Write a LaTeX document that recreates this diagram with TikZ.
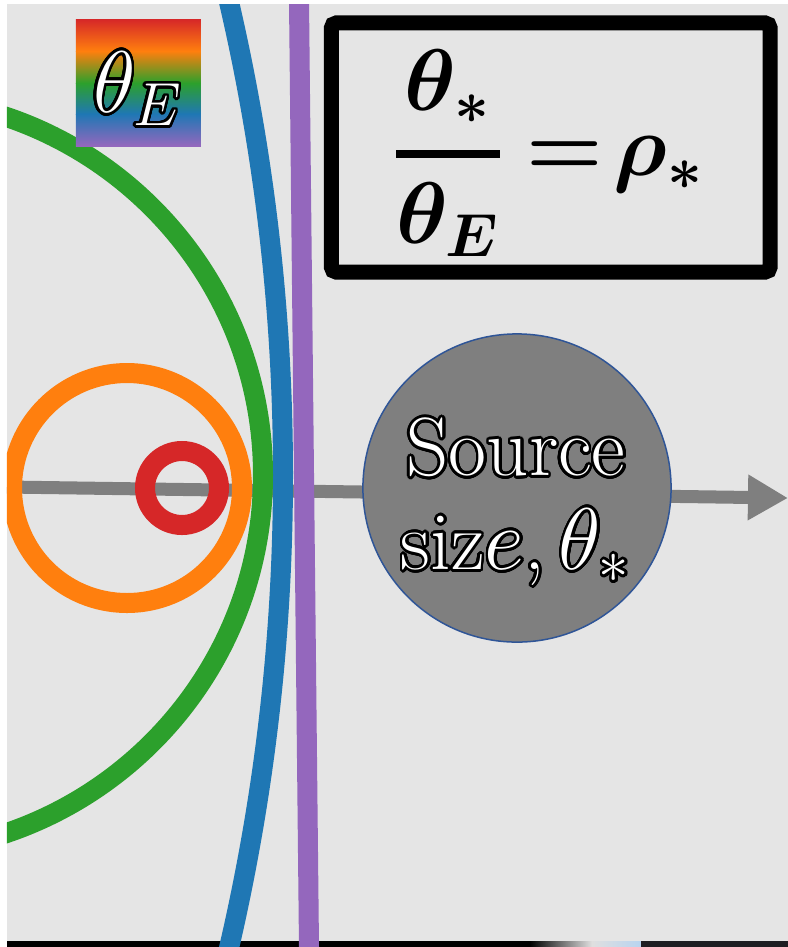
\documentclass[tikz,border=0pt]{standalone}
\usepackage{amsmath}
\usepackage{contour}
\usetikzlibrary{arrows.meta}

\definecolor{bgGray}{HTML}{E5E5E5}
\definecolor{tabRed}{HTML}{D62728}
\definecolor{tabOrange}{HTML}{FF7F0E}
\definecolor{tabGreen}{HTML}{2CA02C}
\definecolor{tabBlue}{HTML}{1F77B4}
\definecolor{tabPurple}{HTML}{9467BD}
\definecolor{axisGray}{HTML}{7F7F7F}
\definecolor{srcEdge}{HTML}{2F5597}
\definecolor{stripDark}{HTML}{1E1E22}
\definecolor{stripSky}{HTML}{B8D4F0}
\contourlength{0.75pt}
\contournumber{32}

\begin{document}
\begin{tikzpicture}[x=0.01cm, y=-0.01cm,
  ring/.style={line width=0.2cm},
  outlined/.style={text=white, inner sep=0pt}]
  \useasboundingbox (0,0) rectangle (788,947);

  % Background and bottom strip
  \fill[bgGray] (7,4) rectangle (788,941);
  \fill[black] (7,941) rectangle (788,947);
  \shade[left color=black, right color=gray!25] (530,941) rectangle (592,947);
  \shade[left color=gray!25, right color=stripSky] (592,941) rectangle (641,947);
  \fill[stripDark] (641,941) rectangle (788,947);

  \begin{scope}
    \clip (7,4) rectangle (788,947);
    % Source position axis
    \coordinate (axisstart) at (7,487);
    \coordinate (axisend) at (788,498);
    \draw[axisGray, line width=0.13cm, -{Triangle[length=0.4cm, width=0.43cm]}]
      (axisstart) -- (axisend);
    % Curves for growing source size
    \draw[ring, tabPurple] (299,0) -- (309,947);
    \draw[ring, tabBlue] (-1798,475) circle [radius=2081];
    \draw[ring, tabGreen] (-115,475) circle [radius=378];
    \draw[ring, tabOrange] (127,488) circle [radius=115];
    \draw[ring, tabRed] (182,488) circle [radius=37];
  \end{scope}

  % Colour key for theta_E
  \shade[top color=tabRed, bottom color=tabOrange] (76,19) rectangle (201,51);
  \shade[top color=tabOrange, bottom color=tabGreen] (76,51) rectangle (201,83);
  \shade[top color=tabGreen, bottom color=tabBlue] (76,83) rectangle (201,114);
  \shade[top color=tabBlue, bottom color=tabPurple] (76,114) rectangle (201,146);
  \node[outlined, font=\fontsize{26pt}{30pt}\selectfont] (thetakey) at (138,90)
    {\contour{black}{$\theta_E$}};

  % Ratio box
  \node[draw=black, line width=0.15cm, rounded corners=0.05cm,
    minimum width=4.385cm, minimum height=2.49cm, inner sep=0pt] (ratiobox)
    at (550.75,147.5) {};
  \node[inner sep=0pt, font=\fontsize{26pt}{30pt}\selectfont\boldmath] (ratio) at (548,153)
    {$\displaystyle\genfrac{}{}{2.3pt}{0}{\theta_*}{\theta_E}\mkern4mu{=}\mkern2mu\rho_*$};

  % Source disc
  \node[circle, fill=axisGray, draw=srcEdge, line width=0.015cm,
    minimum size=3.08cm, inner sep=0pt] (source) at (517,488) {};
  \node[outlined, align=center, font=\fontsize{23.5pt}{26.7pt}\selectfont] (sourcetext)
    at (516,503) {\contour{black}{Source}\\\contour{black}{siz$e$,\,$\theta_*$}};
\end{tikzpicture}
\end{document}
